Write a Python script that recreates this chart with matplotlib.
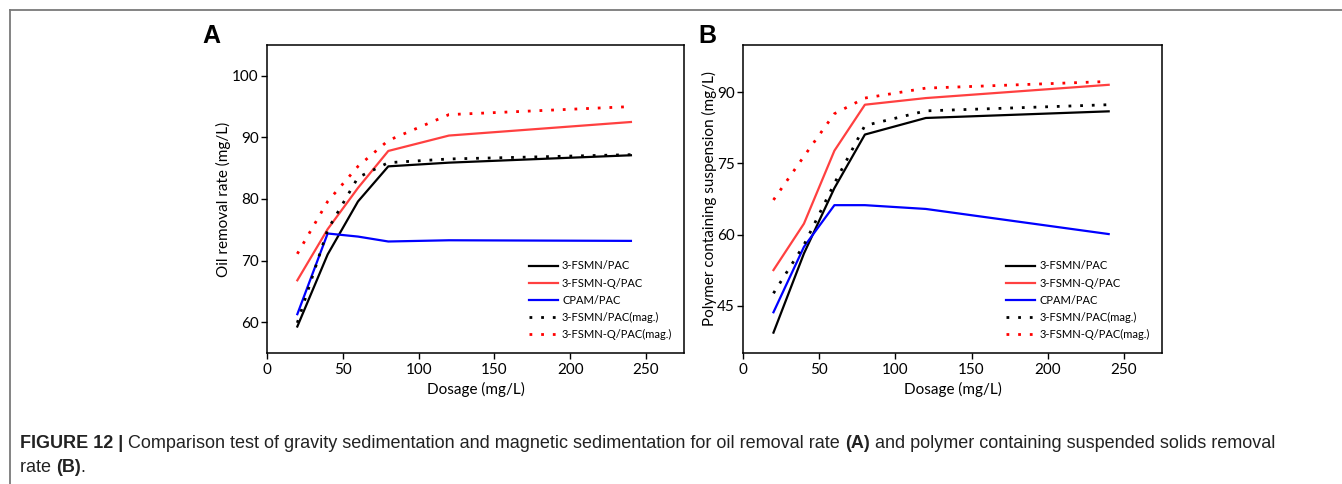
import matplotlib
matplotlib.use("Agg")
import matplotlib.pyplot as plt
from matplotlib.lines import Line2D
from matplotlib import font_manager

# ---------------- data ----------------
dosage = [20, 40, 60, 80, 120, 240]

series_labels = ["3-FSMN/PAC", "3-FSMN-Q/PAC", "CPAM/PAC",
                 "3-FSMN/PAC(mag.)", "3-FSMN-Q/PAC(mag.)"]

# Panel A: oil removal rate
oil_fsmn = [59.3, 71.0, 79.6, 85.3, 85.9, 87.1]
oil_fsmnq = [66.8, 75.1, 81.8, 87.8, 90.3, 92.5]
oil_cpam = [61.3, 74.4, 73.9, 73.1, 73.3, 73.2]
oil_fsmn_mag = [59.9, 75.0, 83.5, 85.9, 86.5, 87.2]
oil_fsmnq_mag = [71.1, 79.6, 85.3, 89.5, 93.7, 95.0]

# Panel B: polymer containing suspension
pol_fsmn = [39.3, 56.0, 69.8, 81.1, 84.6, 86.0]
pol_fsmnq = [52.5, 62.3, 77.7, 87.4, 88.8, 91.6]
pol_cpam = [43.6, 57.4, 66.2, 66.2, 65.4, 60.1]
pol_fsmn_mag = [47.6, 57.8, 70.8, 83.0, 86.1, 87.4]
pol_fsmnq_mag = [67.3, 76.5, 85.5, 88.8, 90.9, 92.3]

x_ticks = [0, 50, 100, 150, 200, 250]
yticks_a = [60, 70, 80, 90, 100]
yticks_b = [45, 60, 75, 90]

# ---------------- style ----------------
plt.rcParams['font.family'] = ['Lato', 'DejaVu Sans']
plt.rcParams['axes.linewidth'] = 1.1

W, H = 1342, 484
fig = plt.figure(figsize=(W / 100, H / 100), dpi=100)

styles = [
    dict(color="#000000", ls="-", lw=1.6),
    dict(color="#ff4040", ls="-", lw=1.6),
    dict(color="#0000ff", ls="-", lw=1.6),
    dict(color="#000000", ls=(0, (1, 3.2)), lw=2.0),
    dict(color="#ff0000", ls=(0, (1, 3.2)), lw=2.0),
]


def px_axes(l, r, t, b):
    return [l / W, (H - b) / H, (r - l) / W, (b - t) / H]


def draw_panel(ax, data, ylim, yticks, ylabel, letter, letter_x, ylabelpad):
    for vals, lab, st in zip(data, series_labels, styles):
        ax.plot(dosage, vals, label=lab, color=st["color"], linestyle=st["ls"],
                linewidth=st["lw"])
    ax.set_xlim(0, 275)
    ax.set_ylim(*ylim)
    ax.set_xticks(x_ticks)
    ax.set_yticks(yticks)
    ax.tick_params(direction="out", length=4, width=1, labelsize=11)
    ax.tick_params(axis="y", pad=2)
    ax.set_xlabel("Dosage (mg/L)", fontsize=11, labelpad=3)
    ax.set_ylabel(ylabel, fontsize=11, labelpad=ylabelpad)
    ax.legend(loc="upper left", bbox_to_anchor=(0.617, 0.315),
              frameon=False, fontsize=8, handlelength=2.65,
              handletextpad=0.35, labelspacing=0.55, borderaxespad=0)
    fig.text(letter_x / W, (H - 36) / H, letter, fontsize=18, fontweight="bold",
             family=["Liberation Sans", "DejaVu Sans"], ha="center", va="center")


axA = fig.add_axes(px_axes(267, 684, 45, 353))
draw_panel(axA, [oil_fsmn, oil_fsmnq, oil_cpam, oil_fsmn_mag, oil_fsmnq_mag],
           (55, 105), yticks_a, "Oil removal rate (mg/L)", "A", 211, 1)

axB = fig.add_axes(px_axes(743, 1162, 45, 353))
draw_panel(axB, [pol_fsmn, pol_fsmnq, pol_cpam, pol_fsmn_mag, pol_fsmnq_mag],
           (35, 100), yticks_b, "Polymer containing suspension (mg/L)", "B", 707, 0)

# frame lines (top and left)
fig.add_artist(Line2D([10 / W, 1.0], [(H - 10) / H, (H - 10) / H],
                      color="#7a7a7a", lw=1.3, transform=fig.transFigure))
fig.add_artist(Line2D([10 / W, 10 / W], [(H - 10) / H, 0.0],
                      color="#7a7a7a", lw=1.3, transform=fig.transFigure))

# caption
avail = {f.name for f in font_manager.fontManager.ttflist}
cap_family = ["Liberation Sans Narrow"] if "Liberation Sans Narrow" in avail else ["Liberation Sans"]

line1 = [("FIGURE 12 | ", "bold"),
         ("Comparison test of gravity sedimentation and magnetic sedimentation for oil removal rate ", "normal"),
         ("(A)", "bold"),
         (" and polymer containing suspended solids removal", "normal")]
line2 = [("rate ", "normal"), ("(B)", "bold"), (".", "normal")]

fig.canvas.draw()
renderer = fig.canvas.get_renderer()


def seq_width(pieces, size):
    total = 0.0
    for txt, wt in pieces:
        fp = font_manager.FontProperties(family=cap_family, weight=wt, size=size)
        w, h, d = renderer.get_text_width_height_descent(txt, fp, ismath=False)
        total += w
    return total


ref_size = 10.0
target = 1278 - 20
cap_size = ref_size * target / seq_width(line1, ref_size)
cap_size = min(cap_size, 13.0)


def draw_seq(pieces, x0, y):
    x = x0
    for txt, wt in pieces:
        t = fig.text(x / W, (H - y) / H, txt, fontsize=cap_size, fontweight=wt,
                     family=cap_family, color="#222222", ha="left", va="baseline")
        w, h, d = renderer.get_text_width_height_descent(
            txt, t.get_fontproperties(), ismath=False)
        x += w


draw_seq(line1, 20, 448)
draw_seq(line2, 20, 472)

fig.savefig("out.png", dpi=100)
